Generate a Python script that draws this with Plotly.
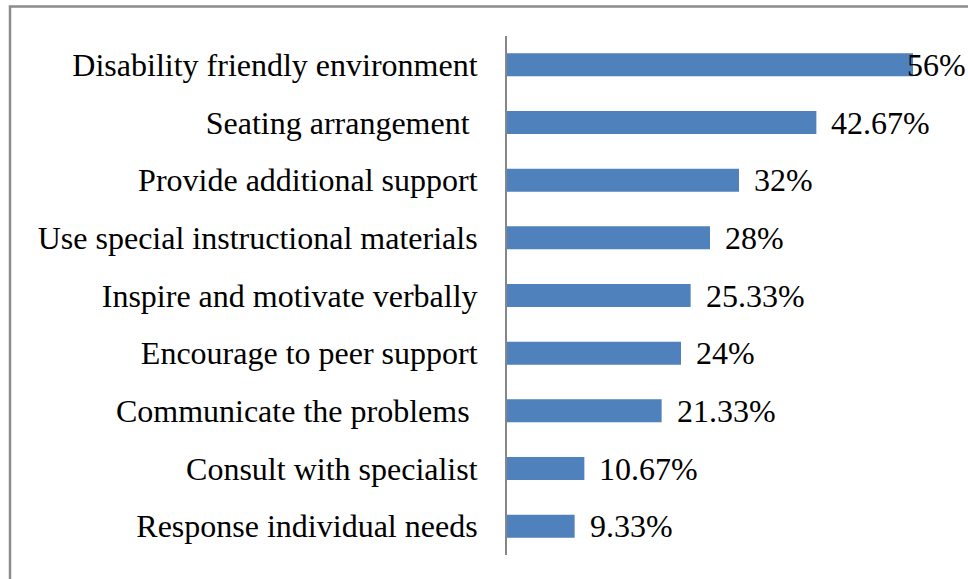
import plotly.graph_objects as go

categories = [
    "Disability friendly environment",
    "Seating arrangement ",
    "Provide additional support",
    "Use special instructional materials",
    "Inspire and motivate verbally",
    "Encourage to peer support",
    "Communicate the problems ",
    "Consult with specialist",
    "Response individual needs",
]
values = [56, 42.67, 32, 28, 25.33, 24, 21.33, 10.67, 9.33]
value_labels = ["56%", "42.67%", "32%", "28%", "25.33%", "24%", "21.33%", "10.67%", "9.33%"]
label_shift = [-8, 13, 13, 13, 13, 13, 13, 13, 13]

FONT = "Liberation Serif, Times New Roman, serif"
FS = 32

fig = go.Figure(
    go.Bar(
        x=values,
        y=categories,
        orientation="h",
        marker=dict(color="#4F81BD", line=dict(width=0)),
        hoverinfo="skip",
    )
)

for v, c, t, s in zip(values, categories, value_labels, label_shift):
    fig.add_annotation(
        x=v, y=c, text=t, xanchor="left", yanchor="middle", xshift=s,
        showarrow=False, font=dict(family=FONT, size=FS, color="#000000"),
    )

# outer chart frame (extends past right/bottom edge as in the reference)
fig.add_shape(
    type="rect", xref="paper", yref="paper",
    x0=(10 - 507) / 435, x1=(1000 - 507) / 435,
    y0=(555 - 620) / 519, y1=(555 - 6.5) / 519,
    line=dict(color="#8C8C8C", width=2.5), fillcolor="rgba(0,0,0,0)", layer="below",
)

fig.update_layout(
    width=968, height=579,
    margin=dict(l=507, r=26, t=36, b=24),
    plot_bgcolor="white", paper_bgcolor="white",
    bargap=0.6,
    showlegend=False,
    xaxis=dict(range=[0, 60], visible=False, fixedrange=True),
    yaxis=dict(
        range=[8.5, -0.5],
        showline=True, linecolor="#868686", linewidth=2,
        showgrid=False, ticks="", ticklabelstandoff=21,
        tickfont=dict(family=FONT, size=FS, color="#000000"),
        zeroline=False,
    ),
)

fig.write_html(
    "out.html",
    config={"displayModeBar": False, "staticPlot": True},
    post_script="document.body.style.margin='0';document.body.style.overflow='hidden';",
)
